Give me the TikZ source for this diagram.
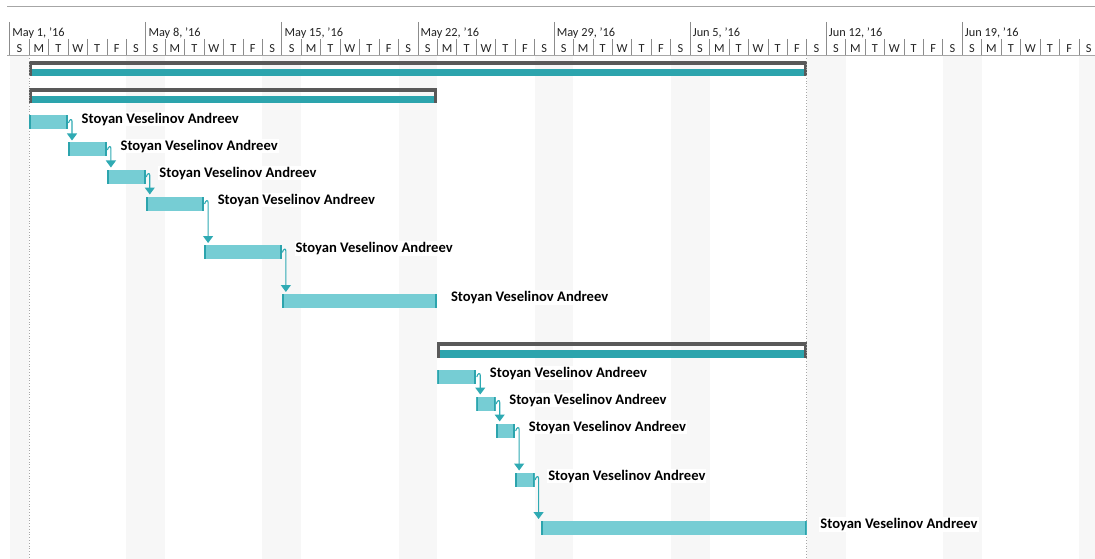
\documentclass[tikz,border=0pt]{standalone}
\usepackage{fontspec}
\setmainfont{Carlito}
\usetikzlibrary{arrows.meta,calc}

\definecolor{barfill}{HTML}{76CDD4}
\definecolor{baredge}{HTML}{2CA4AD}
\definecolor{linkcol}{HTML}{2FAAB3}
\definecolor{sumgray}{HTML}{595959}
\definecolor{gridgray}{HTML}{A6A6A6}
\definecolor{sepgray}{HTML}{8C8C8C}
\definecolor{weekend}{HTML}{F7F7F7}
\definecolor{hdrtext}{HTML}{222222}

% x position of the left edge of day number #1 (day 0 = Sun May 1, 2016)
\newcommand\dayx[1]{{9.7+19.44*(#1)}}

% task bar: name, start day, end day, top y, resource label
\newcommand\ganttask[5]{%
  \node[taskbar, minimum width={19.44*((#3)-(#2))}] (#1) at (\dayx{#2},#4) {};
  \node[who] (#1-who) at ($(#1.north east)+(12.5,7.6)$) {#5};
}

% summary bar: name, start day, end day, top y
\newcommand\gantsummary[4]{%
  \node[sumteal, minimum width={19.44*((#3)-(#2))}] (#1) at (\dayx{#2},{#4+8}) {};
  \fill[sumgray] ([yshift=8pt]#1.north west) rectangle ([yshift=4pt]#1.north east);
  \fill[sumgray] ([yshift=8pt]#1.north west) rectangle ([xshift=3pt]#1.south west);
  \fill[sumgray] ([yshift=8pt,xshift=-3pt]#1.north east) rectangle (#1.south east);
}

% finish-to-start dependency from task #1 to task #2
\newcommand\gantlink[2]{%
  \coordinate (#1-out) at ($(#1.north east)+(4,6)$);
  \draw[linkline] ($(#1.north east)+(0.5,7.5)$)
     .. controls ($(#1.north east)+(1.5,3.5)$) and ($(#1.north east)+(4,3)$) .. (#1-out)
     -- (#1-out |- #2.north);
}

\begin{document}
\begin{tikzpicture}[x=1pt,y=-1pt,
  taskbar/.style={fill=barfill, minimum height=14pt, inner sep=0pt, outer sep=0pt,
    anchor=north west,
    path picture={
      \fill[baredge] (path picture bounding box.north west) rectangle ([xshift=2pt]path picture bounding box.south west);
      \fill[baredge] ([xshift=-2pt]path picture bounding box.north east) rectangle (path picture bounding box.south east);
    }},
  sumteal/.style={fill=baredge, minimum height=7.5pt, inner sep=0pt, outer sep=0pt, anchor=north west},
  who/.style={anchor=base west, fill=white, inner sep=1pt, text=black,
    font=\fontsize{14.6}{17}\selectfont\bfseries},
  linkline/.style={draw=linkcol, line width=1.1pt,
    -{Triangle[width=10pt,length=7pt]}, shorten >=2pt},
  projline/.style={draw=gridgray, line width=0.8pt, dotted},
  hdr/.style={text=hdrtext, inner sep=0pt, font=\fontsize{12.3}{14}\selectfont},
]
\useasboundingbox (0,0) rectangle (1095,559);
\fill[white] (0,0) rectangle (1095,559);

% weekend columns in the chart area
\begin{scope}
  \clip (0,56) rectangle (1095,559);
  \foreach \k in {0,6,7,13,14,20,21,27,28,34,35,41,42,48,49,55}
    \fill[weekend] (\dayx{\k},56) rectangle (\dayx{\k+1},559);
\end{scope}

% timescale header
\coordinate (hdrtop) at (7,7);
\coordinate (hdrbot) at (7,55.5);
\coordinate (chartbot) at (0,559);
\draw[gridgray, line width=1pt] (hdrtop) -- (1095,7);
\draw[gridgray, line width=0.8pt] (hdrbot) -- (1095,55.5);
\foreach \k in {0,...,55}{
  \pgfmathtruncatemacro\d{mod(\k,7)}
  \ifnum\d=0
    \draw[sepgray, line width=0.8pt] (\dayx{\k},22) -- (\dayx{\k},55.5);
  \else
    \draw[sepgray, line width=0.7pt] (\dayx{\k},39) -- (\dayx{\k},55.5);
  \fi
  \node[hdr, anchor=base] (day\k) at (\dayx{\k+0.5},53)
    {\ifcase\d S\or M\or T\or W\or T\or F\or S\fi};
}
\foreach \w/\lab in {0/{May 1, ’16}, 1/{May 8, ’16}, 2/{May 15, ’16}, 3/{May 22, ’16},
                     4/{May 29, ’16}, 5/{Jun 5, ’16}, 6/{Jun 12, ’16}, 7/{Jun 19, ’16}}
  \node[hdr, anchor=base west] (week\w) at (\dayx{7*\w+0.13},36.5) {\lab};

% summary bars
\gantsummary{proj}{1}{41}{61}
\gantsummary{phaseA}{1}{22}{88}
\gantsummary{phaseB}{22}{41}{342}

% project start and finish lines
\draw[projline] (proj.west |- hdrbot) -- (proj.west |- chartbot);
\draw[projline] (proj.east |- hdrbot) -- (proj.east |- chartbot);

% tasks
\ganttask{t1}{1}{3}{115.5}{Stoyan Veselinov Andreev}
\ganttask{t2}{3}{5}{142.5}{Stoyan Veselinov Andreev}
\ganttask{t3}{5}{7}{169.5}{Stoyan Veselinov Andreev}
\ganttask{t4}{7}{10}{196.5}{Stoyan Veselinov Andreev}
\ganttask{t5}{10}{14}{245}{Stoyan Veselinov Andreev}
\ganttask{t6}{14}{22}{294}{Stoyan Veselinov Andreev}
\ganttask{t7}{22}{24}{369.5}{Stoyan Veselinov Andreev}
\ganttask{t8}{24}{25}{396.5}{Stoyan Veselinov Andreev}
\ganttask{t9}{25}{26}{423.5}{Stoyan Veselinov Andreev}
\ganttask{t10}{26}{27}{472.5}{Stoyan Veselinov Andreev}
\ganttask{t11}{27.33}{41}{521}{Stoyan Veselinov Andreev}

% dependencies
\gantlink{t1}{t2}
\gantlink{t2}{t3}
\gantlink{t3}{t4}
\gantlink{t4}{t5}
\gantlink{t5}{t6}
\gantlink{t7}{t8}
\gantlink{t8}{t9}
\gantlink{t9}{t10}
\gantlink{t10}{t11}
\end{tikzpicture}
\end{document}
